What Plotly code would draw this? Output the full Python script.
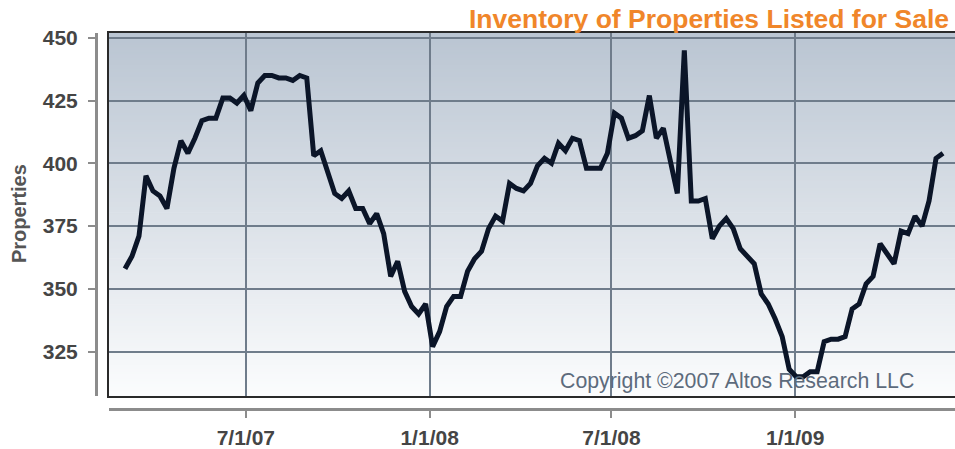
import plotly.graph_objects as go
import pandas as pd

# ---- data ----
start_date = "2007-03-02"
inventory = [
    358, 363, 371, 395, 389, 387, 382, 398, 409, 404,
    410, 417, 418, 418, 426, 426, 424, 427, 421, 432,
    435, 435, 434, 434, 433, 435, 434, 403, 405, 396,
    388, 386, 389, 382, 382, 376, 380, 372, 355, 361,
    349, 343, 340, 344, 327, 333, 343, 347, 347, 357,
    362, 365, 374, 379, 377, 392, 390, 389, 392, 399,
    402, 400, 408, 405, 410, 409, 398, 398, 398, 404,
    420, 418, 410, 411, 413, 427, 410, 414, 400, 388,
    445, 385, 385, 386, 370, 375, 378, 374, 366, 363,
    360, 348, 344, 338, 331, 318, 315, 315, 317, 317,
    329, 330, 330, 331, 342, 344, 352, 355, 368, 364,
    360, 373, 372, 379, 375, 385, 402, 404,
]
dates = pd.date_range(start_date, periods=len(inventory), freq="7D")

x_tick_vals = ["2007-07-01", "2008-01-01", "2008-07-01", "2009-01-01"]
x_tick_text = ["7/1/07", "1/1/08", "7/1/08", "1/1/09"]
y_tick_vals = [325, 350, 375, 400, 425, 450]
x_range = ["2007-02-14", "2009-06-10"]
y_range = [307.3, 451.9]

title_text = "Inventory of Properties Listed for Sale"
copyright_text = "Copyright ©2007 Altos Research LLC"
y_title = "Properties"

# ---- figure geometry ----
W, H = 955, 449
ml, mr, mt, mb = 96, 0, 33, 449 - 413
pw, ph = W - ml - mr, H - mt - mb
x_dom = [(109 - 96) / pw, 1]
y_dom = [(413 - 400) / ph, 1]


def px_x(x):
    return (x - ml) / pw


def px_y(y):
    return (H - mb - y) / ph


fig = go.Figure()
fig.add_trace(go.Scatter(
    x=dates, y=inventory, mode="lines",
    line=dict(color="#0b1528", width=5),
    hoverinfo="x+y", showlegend=False,
))
# companion trace for the detached axes
fig.add_trace(go.Scatter(
    x=dates, y=inventory, mode="none", xaxis="x2", yaxis="y2",
    hoverinfo="skip", showlegend=False,
))

# gradient background bands
n = 150
top = (186, 197, 210)
bot = (251, 252, 253)
for i in range(n):
    t = i / (n - 1)
    c = tuple(round(top[k] + (bot[k] - top[k]) * t) for k in range(3))
    fig.add_shape(type="rect", xref="x domain", yref="y domain",
                  x0=0, x1=1, y0=1 - (i + 1) / n - 0.002, y1=1 - i / n,
                  fillcolor="rgb(%d,%d,%d)" % c, line=dict(width=0),
                  layer="below")

FAM = "Arial, Liberation Sans, sans-serif"
label_font = dict(family=FAM, size=21, color="#454545", weight="bold")

fig.update_layout(
    width=W, height=H,
    margin=dict(l=ml, r=mr, t=mt, b=mb),
    paper_bgcolor="white", plot_bgcolor="white",
    xaxis=dict(domain=x_dom, range=x_range, type="date",
               tickvals=x_tick_vals, showticklabels=False, ticks="",
               showgrid=True, gridcolor="#6f7c8b", gridwidth=1.5,
               showline=True, linecolor="#2a2a2a", linewidth=2, mirror=True,
               zeroline=False),
    yaxis=dict(domain=y_dom, range=y_range, tickvals=y_tick_vals,
               showticklabels=False, ticks="",
               showgrid=True, gridcolor="#6f7c8b", gridwidth=2,
               showline=True, linecolor="#2a2a2a", linewidth=2, mirror=False,
               zeroline=False),
    xaxis2=dict(overlaying="x", anchor="free", position=0, range=x_range,
                type="date", tickvals=x_tick_vals, ticktext=x_tick_text,
                showgrid=False, zeroline=False,
                showline=True, linecolor="#8c8c8c", linewidth=3,
                ticks="outside", ticklen=7, tickwidth=2, tickcolor="#8c8c8c",
                tickfont=label_font, ticklabelstandoff=2),
    yaxis2=dict(overlaying="y", anchor="free", position=0, range=y_range,
                tickvals=y_tick_vals, showgrid=False, zeroline=False,
                showline=True, linecolor="#8c8c8c", linewidth=3,
                ticks="outside", ticklen=7, tickwidth=2, tickcolor="#8c8c8c",
                tickfont=label_font, ticklabelstandoff=6),
    annotations=[
        dict(text=title_text, xref="paper", yref="paper",
             x=px_x(951), y=px_y(19), xanchor="right",
             yanchor="middle", showarrow=False,
             font=dict(family=FAM, size=26.5, color="#f0862a", weight="bold")),
        dict(text=copyright_text, xref="paper", yref="paper",
             x=px_x(916), y=px_y(385), xanchor="right",
             yanchor="middle", showarrow=False,
             font=dict(family=FAM, size=21.3, color="#5d6b7c")),
        dict(text=y_title, xref="paper", yref="paper",
             x=px_x(19), y=px_y(216), xanchor="center",
             yanchor="middle", textangle=-90, showarrow=False,
             font=dict(family=FAM, size=20, color="#555555", weight="bold")),
    ],
)

fig.write_html(
    "out.html",
    config={"displayModeBar": False},
    post_script="document.body.style.margin='0px';"
                "document.body.style.overflow='hidden';",
)
